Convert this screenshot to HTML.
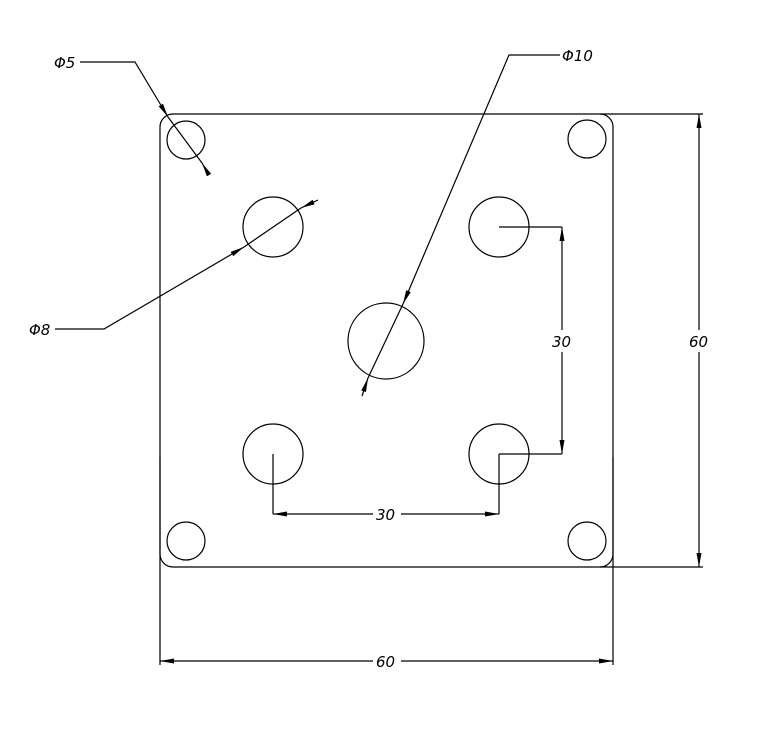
<!DOCTYPE html>
<html><head><style>body{margin:0;background:#fff}svg{display:block}text{font-family:"DejaVu Sans","Liberation Sans",sans-serif;font-style:italic;font-size:15px;fill:#000}</style></head>
<body>
<svg width="765" height="740" viewBox="0 0 765 740" xmlns="http://www.w3.org/2000/svg">
<defs><marker id="a" markerWidth="14" markerHeight="6" refX="14" refY="3" orient="auto" markerUnits="userSpaceOnUse"><path d="M0,0.5L14,3L0,5.5z" fill="#000"/></marker></defs>
<g fill="none" stroke="#000" stroke-width="1.2">
<rect x="160" y="114" width="453" height="453" rx="13"/>
<circle cx="186" cy="140" r="19"/><circle cx="587" cy="139" r="19"/>
<circle cx="186" cy="541" r="19"/><circle cx="587" cy="541" r="19"/>
<circle cx="273" cy="227" r="30"/><circle cx="499" cy="227" r="30"/>
<circle cx="273" cy="454" r="30"/><circle cx="499" cy="454" r="30"/>
<circle cx="386" cy="341" r="38"/>
<line x1="600" y1="114" x2="703" y2="114"/><line x1="600" y1="567" x2="703" y2="567"/>
<line x1="699" y1="341" x2="699" y2="114" marker-end="url(#a)"/><line x1="699" y1="341" x2="699" y2="567" marker-end="url(#a)"/>
<line x1="160" y1="457" x2="160" y2="665"/><line x1="613" y1="457" x2="613" y2="665"/>
<line x1="386" y1="661" x2="160" y2="661" marker-end="url(#a)"/><line x1="386" y1="661" x2="613" y2="661" marker-end="url(#a)"/>
<line x1="499" y1="227" x2="562" y2="227"/><line x1="499" y1="454" x2="562" y2="454"/>
<line x1="562" y1="341" x2="562" y2="227" marker-end="url(#a)"/><line x1="562" y1="341" x2="562" y2="454" marker-end="url(#a)"/>
<line x1="273" y1="454" x2="273" y2="514"/><line x1="499" y1="454" x2="499" y2="514"/>
<line x1="386" y1="514" x2="273" y2="514" marker-end="url(#a)"/><line x1="386" y1="514" x2="499" y2="514" marker-end="url(#a)"/>
<polyline points="80,62 135,62 168,117" marker-end="url(#a)"/>
<line x1="168" y1="117" x2="202" y2="163"/>
<line x1="209" y1="175" x2="202" y2="163" marker-end="url(#a)"/>
<polyline points="55,329 104,329 244,247" marker-end="url(#a)"/>
<line x1="244" y1="247" x2="301" y2="208"/>
<line x1="318" y1="200" x2="301" y2="208" marker-end="url(#a)"/>
<polyline points="560,55 509,55 403,304" marker-end="url(#a)"/>
<line x1="403" y1="304" x2="368" y2="378"/>
<line x1="362" y1="396" x2="368" y2="378" marker-end="url(#a)"/>
</g>
<rect x="373" y="652" width="28" height="18" fill="#fff"/><text x="376" y="667">60</text>
<rect x="688" y="330" width="24" height="22" fill="#fff"/><text x="689" y="347">60</text>
<rect x="551" y="330" width="24" height="22" fill="#fff"/><text x="552" y="347">30</text>
<rect x="373" y="505" width="28" height="18" fill="#fff"/><text x="376" y="520">30</text>
<text x="54" y="68">Φ5</text>
<text x="29" y="335">Φ8</text>
<text x="562" y="61">Φ10</text>
</svg>
</body></html>
